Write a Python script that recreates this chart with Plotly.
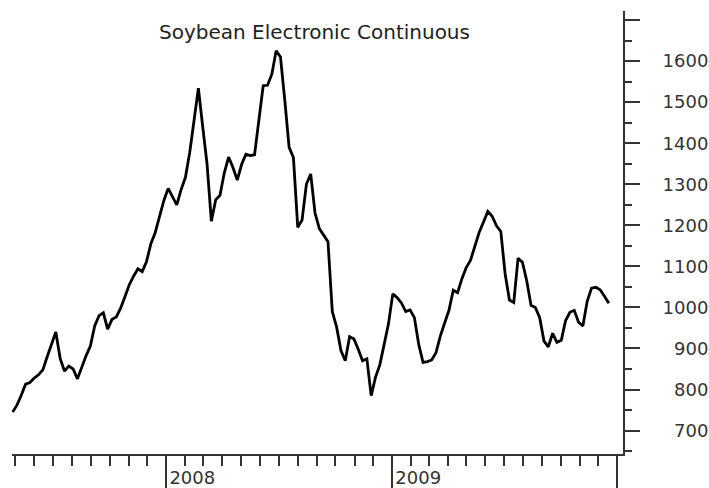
import pandas as pd
import plotly.graph_objects as go

title_text = "Soybean Electronic Continuous"
start_date = "2007-04-27"
prices = [745, 762, 786, 813, 817, 828, 836, 848, 880, 910,
          940, 876, 845, 857, 850, 826, 855, 882, 906, 955,
          980, 987, 947, 971, 977, 998, 1026, 1055, 1076, 1094,
          1087, 1112, 1155, 1182, 1221, 1260, 1290, 1268, 1250, 1287,
          1317, 1378, 1450, 1534, 1440, 1350, 1210, 1262, 1273, 1328,
          1366, 1341, 1310, 1348, 1373, 1370, 1372, 1455, 1540, 1541,
          1568, 1625, 1610, 1505, 1390, 1365, 1195, 1213, 1300, 1325,
          1230, 1192, 1175, 1160, 990, 952, 895, 870, 929, 923,
          898, 870, 875, 785, 830, 860, 910, 960, 1033, 1024,
          1011, 990, 994, 975, 910, 866, 868, 872, 890, 930,
          962, 993, 1042, 1036, 1070, 1097, 1115, 1147, 1183, 1208,
          1234, 1222, 1199, 1185, 1082, 1018, 1012, 1120, 1110, 1065,
          1005, 1000, 975, 918, 904, 937, 915, 920, 968, 988,
          993, 964, 955, 1015, 1047, 1049, 1043, 1027, 1010]
dates = pd.date_range(start_date, periods=len(prices), freq="7D")

year_ticks = ["2008-01-01", "2009-01-01", "2010-01-01"]
year_labels = ["2008", "2009", ""]
y_ticks = [700, 800, 900, 1000, 1100, 1200, 1300, 1400, 1500, 1600, 1700]
y_labels = ["\u2007700", "\u2007800", "\u2007900", "1000", "1100", "1200",
            "1300", "1400", "1500", "1600", ""]

axis_color = "#333333"
font_family = "DejaVu Sans, Liberation Sans, Arial, sans-serif"

fig = go.Figure()
fig.add_trace(go.Scatter(x=dates, y=prices, mode="lines",
                         line=dict(color="black", width=2.8),
                         showlegend=False))

fig.update_layout(
    width=709, height=488,
    margin=dict(l=12, r=86, t=11, b=34, autoexpand=False),
    paper_bgcolor="white", plot_bgcolor="white",
    font=dict(family=font_family, size=18, color=axis_color),
    annotations=[dict(text=title_text, xref="paper", yref="paper",
                      x=0.495, y=0.953, xanchor="center", yanchor="middle",
                      showarrow=False,
                      font=dict(family=font_family, size=20, color="#222222"))],
)

fig.update_xaxes(
    range=["2007-04-26", "2010-01-10"],
    automargin=False,
    showgrid=False, zeroline=False,
    showline=True, linecolor=axis_color, linewidth=2,
    tickmode="array", tickvals=year_ticks, ticktext=year_labels,
    ticks="outside", ticklen=34, tickwidth=2, tickcolor=axis_color,
    ticklabelshift=26, ticklabelstandoff=-28,
    tickfont=dict(size=18, color=axis_color),
    minor=dict(dtick="M1", tick0="2007-01-01", ticks="outside",
               ticklen=10, tickwidth=2, tickcolor=axis_color, showgrid=False),
)

fig.update_yaxes(
    range=[643, 1722], side="right",
    automargin=False,
    showgrid=False, zeroline=False,
    showline=True, linecolor=axis_color, linewidth=2,
    tickmode="array", tickvals=y_ticks, ticktext=y_labels,
    ticks="outside", ticklen=15, tickwidth=2, tickcolor=axis_color,
    ticklabelstandoff=19,
    tickfont=dict(size=18, color=axis_color),
    minor=dict(tickmode="linear", tick0=650, dtick=50, ticks="outside",
               ticklen=7, tickwidth=2, tickcolor=axis_color, showgrid=False),
)

fig.write_html("out.html",
               config={"displayModeBar": False},
               post_script="document.body.style.margin='0px';document.body.style.padding='0px';")
